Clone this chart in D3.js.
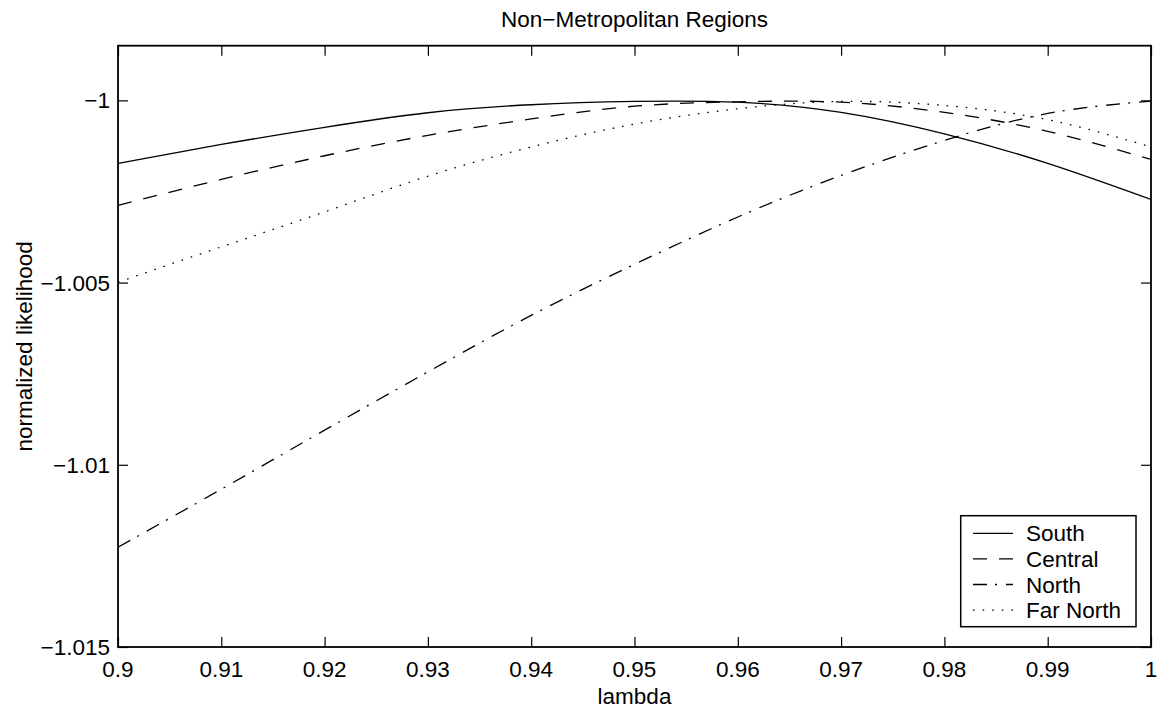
<!DOCTYPE html>
<meta charset="utf-8">
<style>
  body { margin: 0; background: #fff; }
  text { font-family: "Liberation Sans", Arial, Helvetica, sans-serif; fill: #000; }
</style>
<!-- load the d3.js library -->
<script src="https://d3js.org/d3.v7.min.js"></script>
<script>
// data, lambda steps of 0.01
var lambda = [0.90, 0.91, 0.92, 0.93, 0.94, 0.95, 0.96, 0.97, 0.98, 0.99, 1.00];
var south = [-1.00173, -1.00121, -1.00074, -1.00034, -1.00012, -1.00003, -1.00005, -1.00033, -1.00092, -1.00173, -1.00272];
var central = [-1.00288, -1.00217, -1.00152, -1.00096, -1.00051, -1.00016, -1.00004, -1.00005, -1.00033, -1.00085, -1.00162];
var north = [-1.01226, -1.01067, -1.00905, -1.00745, -1.00590, -1.00450, -1.00320, -1.00206, -1.00110, -1.00036, -1.00002];
var farNorth = [-1.00499, -1.00402, -1.00306, -1.00208, -1.00128, -1.00065, -1.00023, -1.00003, -1.00014, -1.00053, -1.00128];

var seriesNames = ["South", "Central", "North", "Far North"];
var xTicks = [0.9, 0.91, 0.92, 0.93, 0.94, 0.95, 0.96, 0.97, 0.98, 0.99, 1];
var yTicks = [-1.015, -1.01, -1.005, -1];

window.onload = function() {

  var W = 1157, H = 711;
  var left = 118, right = 1151, top = 45.7, bottom = 647;

  var svg = d3.select("body")
              .append("svg")
              .attr("width", W)
              .attr("height", H);

  var x = d3.scaleLinear().domain([0.9, 1]).range([left, right]);
  var y = d3.scaleLinear().domain([-1.015, -0.9985]).range([bottom, top]);

  var dashes = ["none", "14,12", "14,8,2,9", "1.6,8"];
  var values = [south, central, north, farNorth];

  svg.append("defs").append("clipPath").attr("id", "clip")
    .append("rect")
    .attr("x", left).attr("y", top)
    .attr("width", right - left).attr("height", bottom - top);

  // axes, ticks inside, mirrored on top and right
  var fsize = 22.5;
  svg.append("g").attr("transform", "translate(0," + bottom + ")")
    .call(d3.axisTop(x).tickValues(xTicks).tickSize(10).tickFormat(""));
  svg.append("g").attr("transform", "translate(0," + top + ")")
    .call(d3.axisBottom(x).tickValues(xTicks).tickSize(10).tickFormat(""));
  svg.append("g").attr("transform", "translate(" + left + ",0)")
    .call(d3.axisRight(y).tickValues(yTicks).tickSize(10).tickFormat(""));
  svg.append("g").attr("transform", "translate(" + right + ",0)")
    .call(d3.axisLeft(y).tickValues(yTicks).tickSize(10).tickFormat(""));
  svg.selectAll(".domain").remove();
  svg.selectAll(".tick line").style("stroke", "#000").style("stroke-width", 1.2);

  svg.selectAll(".xlab")
    .data(xTicks)
    .enter().append("text")
      .attr("x", function(d) { return x(d); })
      .attr("y", bottom + 29.5)
      .attr("text-anchor", "middle")
      .style("font-size", fsize + "px")
      .text(function(d) { return String(+d.toFixed(2)); });

  svg.selectAll(".ylab")
    .data(yTicks)
    .enter().append("text")
      .attr("x", left - 8)
      .attr("y", function(d) { return y(d) + 8; })
      .attr("text-anchor", "end")
      .style("font-size", fsize + "px")
      .text(function(d) { return String(d).replace("-", "\u2212"); });

  svg.append("rect")
    .attr("x", left).attr("y", top)
    .attr("width", right - left).attr("height", bottom - top)
    .style("fill", "none").style("stroke", "#000").style("stroke-width", 1.8);

  // curves
  var line = d3.line()
    .x(function(d) { return x(d[0]); })
    .y(function(d) { return y(d[1]); })
    .curve(d3.curveNatural);

  values.forEach(function(v, i) {
    svg.append("path")
      .datum(lambda.map(function(l, j) { return [l, v[j]]; }))
      .attr("clip-path", "url(#clip)")
      .attr("d", line)
      .style("fill", "none")
      .style("stroke", "#000")
      .style("stroke-width", 1.3)
      .style("stroke-dasharray", dashes[i]);
  });

  // labels
  svg.append("text").attr("x", (left + right) / 2).attr("y", 27)
    .attr("text-anchor", "middle").style("font-size", fsize + "px")
    .text("Non\u2212Metropolitan Regions");
  svg.append("text").attr("x", (left + right) / 2).attr("y", 704)
    .attr("text-anchor", "middle").style("font-size", fsize + "px")
    .text("lambda");
  svg.append("text")
    .attr("transform", "translate(32," + ((top + bottom) / 2) + ") rotate(-90)")
    .attr("text-anchor", "middle").style("font-size", fsize + "px")
    .text("normalized likelihood");

  // legend
  var lg = svg.append("g");
  lg.append("rect")
    .attr("x", 960.7).attr("y", 515.7).attr("width", 175.3).attr("height", 111)
    .style("fill", "#fff").style("stroke", "#000").style("stroke-width", 1.5);
  seriesNames.forEach(function(name, i) {
    var ry = 533.3 + i * 25.6;
    lg.append("line")
      .attr("x1", 973).attr("x2", 1013).attr("y1", ry).attr("y2", ry)
      .style("stroke", "#000").style("stroke-width", 1.3)
      .style("stroke-dasharray", dashes[i]);
    lg.append("text").attr("x", 1026).attr("y", ry + 8)
      .style("font-size", fsize + "px").text(name);
  });
};
</script>
